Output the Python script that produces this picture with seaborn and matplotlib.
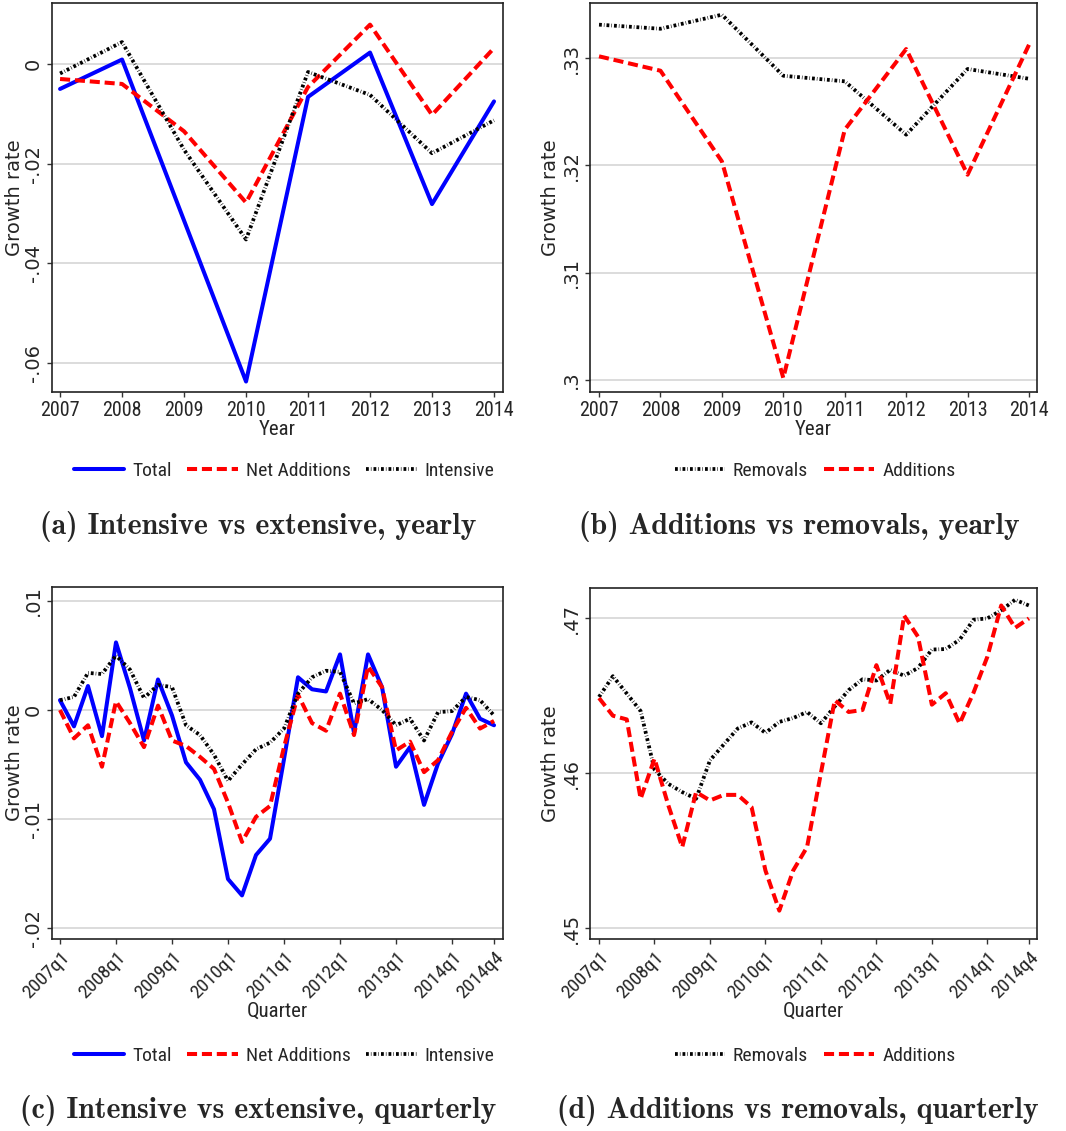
import numpy as np
import pandas as pd
import matplotlib
matplotlib.use("Agg")
import matplotlib.pyplot as plt
import seaborn as sns

# ---- data -------------------------------------------------------------
years = [2007, 2008, 2009, 2010, 2011, 2012, 2013, 2014]
total_yearly = [-0.0050, 0.0009, -0.0314, -0.0637, -0.0066, 0.0023, -0.0281, -0.0075]
net_additions_yearly = [-0.0030, -0.0040, -0.0135, -0.0278, -0.0046, 0.0079, -0.0102, 0.0032]
intensive_yearly = [-0.0019, 0.0044, -0.0172, -0.0352, -0.0016, -0.0062, -0.0179, -0.0113]

removals_yearly = [0.33311, 0.33273, 0.33404, 0.32835, 0.32783, 0.32286, 0.32898, 0.32807]
additions_yearly = [0.33016, 0.32882, 0.32037, 0.30019, 0.32332, 0.33084, 0.31913, 0.33124]

quarters = [f"{y}q{q}" for y in range(2007, 2015) for q in range(1, 5)]
total_quarterly = [0.0009, -0.0015, 0.0022, -0.0024, 0.0062, 0.0020, -0.0028, 0.0028,
                   -0.0005, -0.0048, -0.0064, -0.0091, -0.0155, -0.0170, -0.0133, -0.0118,
                   -0.0045, 0.0030, 0.0019, 0.0017, 0.0051, -0.0021, 0.0051, 0.0021,
                   -0.0052, -0.0034, -0.0087, -0.0049, -0.0022, 0.0015, -0.0008, -0.0014]
net_additions_quarterly = [0.0000, -0.0026, -0.0014, -0.0052, 0.0008, -0.0012, -0.0034, 0.0004,
                           -0.0028, -0.0033, -0.0043, -0.0054, -0.0085, -0.0121, -0.0098, -0.0088,
                           -0.0034, 0.0014, -0.0012, -0.0019, 0.0015, -0.0023, 0.0040, 0.0021,
                           -0.0037, -0.0029, -0.0057, -0.0046, -0.0020, 0.0002, -0.0017, -0.0010]
intensive_quarterly = [0.0009, 0.0012, 0.0034, 0.0033, 0.0050, 0.0037, 0.0011, 0.0023,
                       0.0021, -0.0014, -0.0023, -0.0041, -0.0065, -0.0050, -0.0036, -0.0030,
                       -0.0017, 0.0015, 0.0030, 0.0036, 0.0035, 0.0006, 0.0010, 0.0000,
                       -0.0014, -0.0008, -0.0028, -0.0002, -0.0001, 0.0012, 0.0009, -0.0005]

removals_quarterly = [0.46491, 0.46625, 0.46513, 0.46400, 0.46022, 0.45930, 0.45877, 0.45834,
                      0.46082, 0.46185, 0.46287, 0.46327, 0.46259, 0.46330, 0.46355, 0.46394,
                      0.46321, 0.46430, 0.46535, 0.46605, 0.46597, 0.46666, 0.46628, 0.46678,
                      0.46797, 0.46800, 0.46860, 0.46989, 0.46998, 0.47050, 0.47118, 0.47081]
additions_quarterly = [0.46484, 0.46370, 0.46346, 0.45834, 0.46093, 0.45791, 0.45522, 0.45877,
                       0.45823, 0.45859, 0.45859, 0.45780, 0.45371, 0.45112, 0.45371, 0.45522,
                       0.46000, 0.46470, 0.46394, 0.46407, 0.46696, 0.46446, 0.47016, 0.46880,
                       0.46441, 0.46515, 0.46319, 0.46518, 0.46750, 0.47081, 0.46937, 0.46998]

quarter_ticks = ["2007q1", "2008q1", "2009q1", "2010q1", "2011q1",
                 "2012q1", "2013q1", "2014q1", "2014q4"]

yticks_a = [0.0, -0.02, -0.04, -0.06]
ytick_labels_a = ["0", "-.02", "-.04", "-.06"]
yticks_b = [0.33, 0.32, 0.31, 0.30]
ytick_labels_b = [".33", ".32", ".31", ".3"]
yticks_c = [0.01, 0.0, -0.01, -0.02]
ytick_labels_c = [".01", "0", "-.01", "-.02"]
yticks_d = [0.47, 0.46, 0.45]
ytick_labels_d = [".47", ".46", ".45"]

captions = ["(a) Intensive vs extensive, yearly",
            "(b) Additions vs removals, yearly",
            "(c) Intensive vs extensive, quarterly",
            "(d) Additions vs removals, quarterly"]

# ---- styling ----------------------------------------------------------
sns.set_style("white")
# narrow face for horizontal text, first installed one wins
NARROW = ["Liberation Sans Narrow", "DejaVu Sans Condensed", "Roboto Condensed",
          "Roboto", "DejaVu Sans"]
plt.rcParams["font.family"] = ["DejaVu Sans"]

W, H = 1066, 1131
fig = plt.figure(figsize=(W / 100, H / 100), dpi=100)


def frac(left, top, right, bottom):
    return [left / W, 1 - bottom / H, (right - left) / W, (bottom - top) / H]


ax_a = fig.add_axes(frac(52, 3, 503, 392))
ax_b = fig.add_axes(frac(590, 3, 1037, 392))
ax_c = fig.add_axes(frac(52, 587, 503, 939))
ax_d = fig.add_axes(frac(590, 588, 1037, 939))

STYLES = {
    "solid": dict(color="#0000ff", linewidth=2.9, linestyle="-"),
    "dash": dict(color="#ff0000", linewidth=2.9, linestyle=(0, (2.5, 1.2))),
    "dot": dict(color="black", linewidth=2.7, linestyle=(0, (0.75, 0.55, 0.15, 0.55))),
}


def draw(ax, x, series):
    for label, values, style in series:
        df = pd.DataFrame({"x": x, "y": values})
        sns.lineplot(data=df, x="x", y="y", ax=ax, label=label,
                     legend=False, **STYLES[style])


def style_axes(ax, yticks, ylabels, xlabel, ylab_x):
    ax.set_yticks(yticks)
    ax.set_yticklabels(ylabels, rotation=90, va="center", fontsize=14,
                       family=["DejaVu Sans"])
    ax.yaxis.grid(True, color="#dcdcdc", linewidth=1.4)
    ax.xaxis.grid(False)
    ax.set_axisbelow(True)
    ax.set_ylabel("Growth rate", fontsize=14)
    ax.yaxis.label.set_va("center")
    ax.yaxis.set_label_coords(ylab_x, 0.5)
    ax.set_xlabel(xlabel, fontsize=15, family=NARROW, labelpad=0)
    ax.tick_params(axis="both", which="major", direction="out", length=3.8,
                   width=1.0, color="#333333", left=True, bottom=True, pad=3)
    for s in ax.spines.values():
        s.set_visible(True)
        s.set_color("#222222")
        s.set_linewidth(1.2)


def add_legend(ax, xc, yc, ncol):
    handles, labels = ax.get_legend_handles_labels()
    fig.legend(handles, labels, loc="center",
               bbox_to_anchor=(xc / W, 1 - yc / H), ncol=ncol, frameon=False,
               prop={"family": NARROW, "size": 14}, handlelength=2.6,
               handletextpad=0.4, columnspacing=0.8)


# (a) yearly decomposition
draw(ax_a, years, [("Total", total_yearly, "solid"),
                   ("Net Additions", net_additions_yearly, "dash"),
                   ("Intensive", intensive_yearly, "dot")])
ax_a.set_xlim(2006.87, 2014.145)
ax_a.set_ylim(-0.0658, 0.01224)
ax_a.set_xticks(years)
ax_a.set_xticklabels([str(y) for y in years], family=NARROW, fontsize=14.5)
style_axes(ax_a, yticks_a, ytick_labels_a, "Year", (15 - 52) / 451)
add_legend(ax_a, 284, 471, 3)

# (b) yearly additions vs removals
draw(ax_b, years, [("Removals", removals_yearly, "dot"),
                   ("Additions", additions_yearly, "dash")])
ax_b.set_xlim(2006.853, 2014.13)
ax_b.set_ylim(0.29888, 0.33513)
ax_b.set_xticks(years)
ax_b.set_xticklabels([str(y) for y in years], family=NARROW, fontsize=14.5)
style_axes(ax_b, yticks_b, ytick_labels_b, "Year", (551 - 590) / 447)
add_legend(ax_b, 815, 471, 2)

# quarterly panels share a 0..31 index
qx = list(range(len(quarters)))
qpos = [quarters.index(q) for q in quarter_ticks]

# (c) quarterly decomposition
draw(ax_c, qx, [("Total", total_quarterly, "solid"),
                ("Net Additions", net_additions_quarterly, "dash"),
                ("Intensive", intensive_quarterly, "dot")])
ax_c.set_xlim(-0.57, 31.64)
ax_c.set_ylim(-0.0210, 0.01128)
ax_c.set_xticks(qpos)
ax_c.set_xticklabels(quarter_ticks, rotation=45, ha="right", va="top",
                     rotation_mode="anchor", family=NARROW, fontsize=14)
style_axes(ax_c, yticks_c, ytick_labels_c, "Quarter", (15 - 52) / 451)
add_legend(ax_c, 284, 1056, 3)

# (d) quarterly additions vs removals
draw(ax_d, qx, [("Removals", removals_quarterly, "dot"),
                ("Additions", additions_quarterly, "dash")])
ax_d.set_xlim(-0.65, 31.58)
ax_d.set_ylim(0.44929, 0.47194)
ax_d.set_xticks(qpos)
ax_d.set_xticklabels(quarter_ticks, rotation=45, ha="right", va="top",
                     rotation_mode="anchor", family=NARROW, fontsize=14)
style_axes(ax_d, yticks_d, ytick_labels_d, "Quarter", (551 - 590) / 447)
add_legend(ax_d, 815, 1056, 2)

# sub-figure captions
for text, (xc, yc) in zip(captions, [(258, 526), (799, 526), (258, 1111), (798, 1111)]):
    fig.text(xc / W, 1 - yc / H, text, ha="center", va="center",
             fontsize=21.5, family="cmb10")

fig.savefig("out.png", dpi=100, facecolor="white")
